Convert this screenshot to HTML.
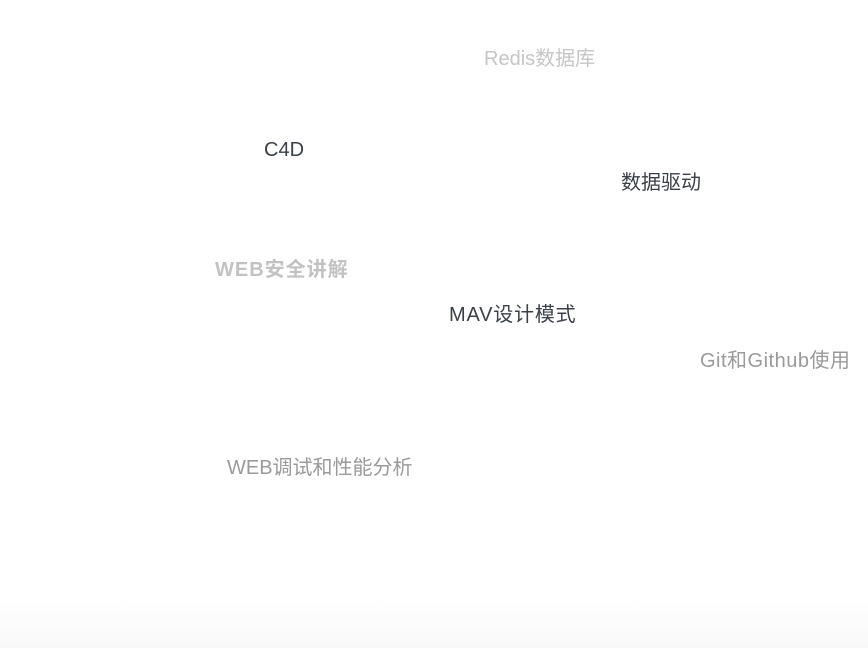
<!DOCTYPE html>
<html><head><meta charset="utf-8"><style>
html,body{margin:0;padding:0;width:868px;height:648px;background:#fff;overflow:hidden;position:relative;
font-family:"Liberation Sans","Noto Sans CJK SC",sans-serif;}
.t{position:absolute;white-space:nowrap;font-size:20px;line-height:20px;}
.fade{position:absolute;left:0;top:600px;width:868px;height:48px;background:linear-gradient(#fff,#f8f8f8);}
</style></head><body>
<div class="t" style="left:484px;top:49px;color:#c6c6c6">Redis数据库</div>
<div class="t" style="left:264px;top:140px;color:#3b4048">C4D</div>
<div class="t" style="left:621px;top:173px;color:#3b4048">数据驱动</div>
<div class="t" style="left:215px;top:260px;color:#c2c2c2;font-weight:bold;letter-spacing:1px">WEB安全讲解</div>
<div class="t" style="left:449px;top:305px;color:#3b4048;letter-spacing:0.8px">MAV设计模式</div>
<div class="t" style="left:700px;top:351px;color:#9a9a9a;letter-spacing:0.5px">Git和Github使用</div>
<div class="t" style="left:227px;top:458px;color:#9a9a9a">WEB调试和性能分析</div>
<div class="fade"></div>
</body></html>
